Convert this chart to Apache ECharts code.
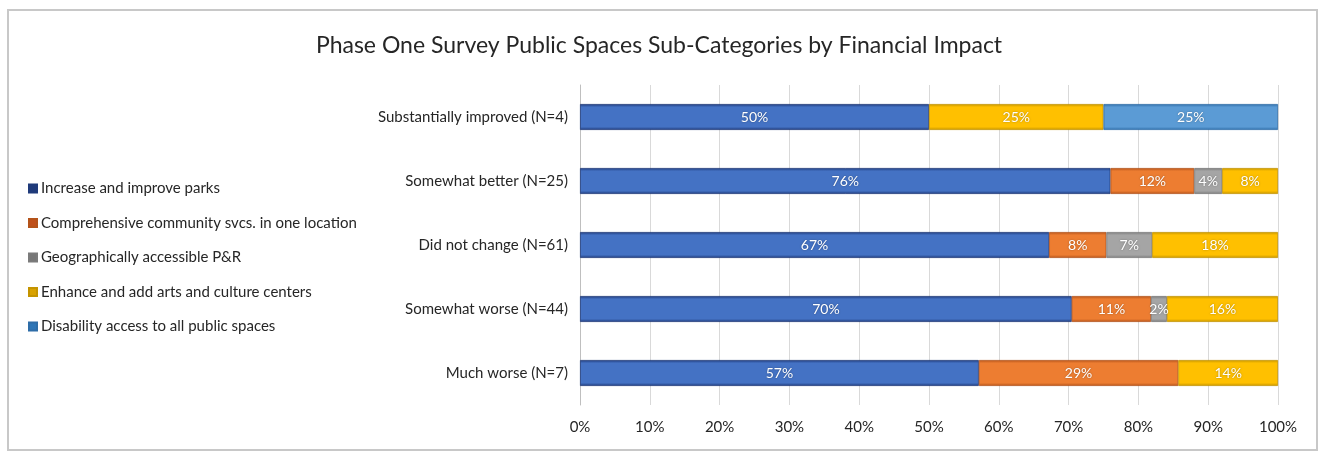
<!DOCTYPE html>
<html>
<head>
<meta charset="utf-8">
<script src="https://cdn.jsdelivr.net/npm/echarts@6/dist/echarts.min.js"></script>
<style>
  html, body { margin: 0; padding: 0; background: #fff; }
  #chart { width: 1318px; height: 465px; }
</style>
</head>
<body>
<div id="chart"></div>
<script>
// Response groups (top to bottom)
const categories = [
  'Substantially improved (N=4)',
  'Somewhat better (N=25)',
  'Did not change (N=61)',
  'Somewhat worse (N=44)',
  'Much worse (N=7)'
];

// Share of each group's responses per sub-category, in percent
const parks      = [50, 76, 67.21, 70.45, 57.14];
const community  = [0, 12, 8.20, 11.36, 28.57];
const parkRide   = [0, 4, 6.56, 2.27, 0];
const arts       = [25, 8, 18.03, 15.91, 14.29];
const disability = [25, 0, 0, 0, 0];

const seriesNames = [
  'Increase and improve parks',
  'Comprehensive community svcs. in one location',
  'Geographically accessible P&R',
  'Enhance and add arts and culture centers',
  'Disability access to all public spaces'
];

const xTicks = [0, 10, 20, 30, 40, 50, 60, 70, 80, 90, 100];

const fills  = ['#4472C4', '#ED7D31', '#A5A5A5', '#FFC000', '#5B9BD5'];
const edges  = ['#1F3A7A', '#B4531A', '#7B7B7B', '#C49400', '#2E6DA8'];
const keys   = ['#1F3A7A', '#C0501A', '#777777', '#D9A200', '#2E75B6'];

const FONT = 'Lato, "Open Sans", sans-serif';

function barFill(i) {
  return {
    type: 'linear', x: 0, y: 0, x2: 0, y2: 1,
    colorStops: [
      { offset: 0, color: edges[i] },
      { offset: 0.12, color: fills[i] },
      { offset: 0.88, color: fills[i] },
      { offset: 1, color: edges[i] }
    ]
  };
}

const values = [parks, community, parkRide, arts, disability];

const series = values.map((vals, i) => ({
  name: seriesNames[i],
  type: 'bar',
  stack: 'total',
  barWidth: 26,
  // empty segments are left out so they draw no edge
  data: vals.map(v => (v > 0 ? v : null)),
  itemStyle: { color: barFill(i), borderColor: edges[i], borderWidth: 0.8 },
  label: {
    show: true,
    position: 'inside',
    color: '#fff',
    fontFamily: FONT,
    fontSize: 14,
    textShadowColor: 'rgba(0,0,0,0.35)',
    textShadowBlur: 2,
    formatter: p => (p.value > 0 ? Math.round(p.value) + '%' : '')
  }
}));

const chart = echarts.init(document.getElementById('chart'), null, { renderer: 'canvas' });
chart.setOption({
  backgroundColor: '#fff',
  animation: false,
  title: {
    text: 'Phase One Survey Public Spaces Sub-Categories by Financial Impact',
    left: 'center',
    top: 29,
    textStyle: { fontFamily: FONT, fontSize: 23, fontWeight: 'normal', color: '#262626' }
  },
  legend: {
    orient: 'vertical',
    left: 23,
    top: 176,
    itemWidth: 8,
    itemHeight: 8,
    itemGap: 19.5,
    icon: 'rect',
    textStyle: { fontFamily: FONT, fontSize: 15, color: '#262626', padding: [0, 0, 0, -1] },
    data: seriesNames.map((n, i) => ({ name: n, itemStyle: { color: keys[i] } }))
  },
  graphic: [{
    type: 'rect',
    shape: { x: 8, y: 10, width: 1309, height: 440 },
    style: { fill: 'none', stroke: '#C8C8C8', lineWidth: 2 },
    silent: true
  }],
  grid: { left: 580, right: 40, top: 85, bottom: 60 },
  xAxis: {
    type: 'value',
    min: xTicks[0],
    max: xTicks[xTicks.length - 1],
    interval: 10,
    axisLine: { show: false },
    axisTick: { show: false },
    splitLine: { show: true, lineStyle: { color: '#D9D9D9', width: 1 } },
    axisLabel: {
      formatter: '{value}%',
      fontFamily: FONT,
      fontSize: 15,
      color: '#262626',
      margin: 15
    }
  },
  yAxis: {
    type: 'category',
    inverse: true,
    data: categories,
    axisLine: { show: true, lineStyle: { color: '#BFBFBF', width: 1 } },
    axisTick: { show: false },
    axisLabel: { fontFamily: FONT, fontSize: 15, color: '#262626', margin: 12 }
  },
  series: series
});
</script>
</body>
</html>
